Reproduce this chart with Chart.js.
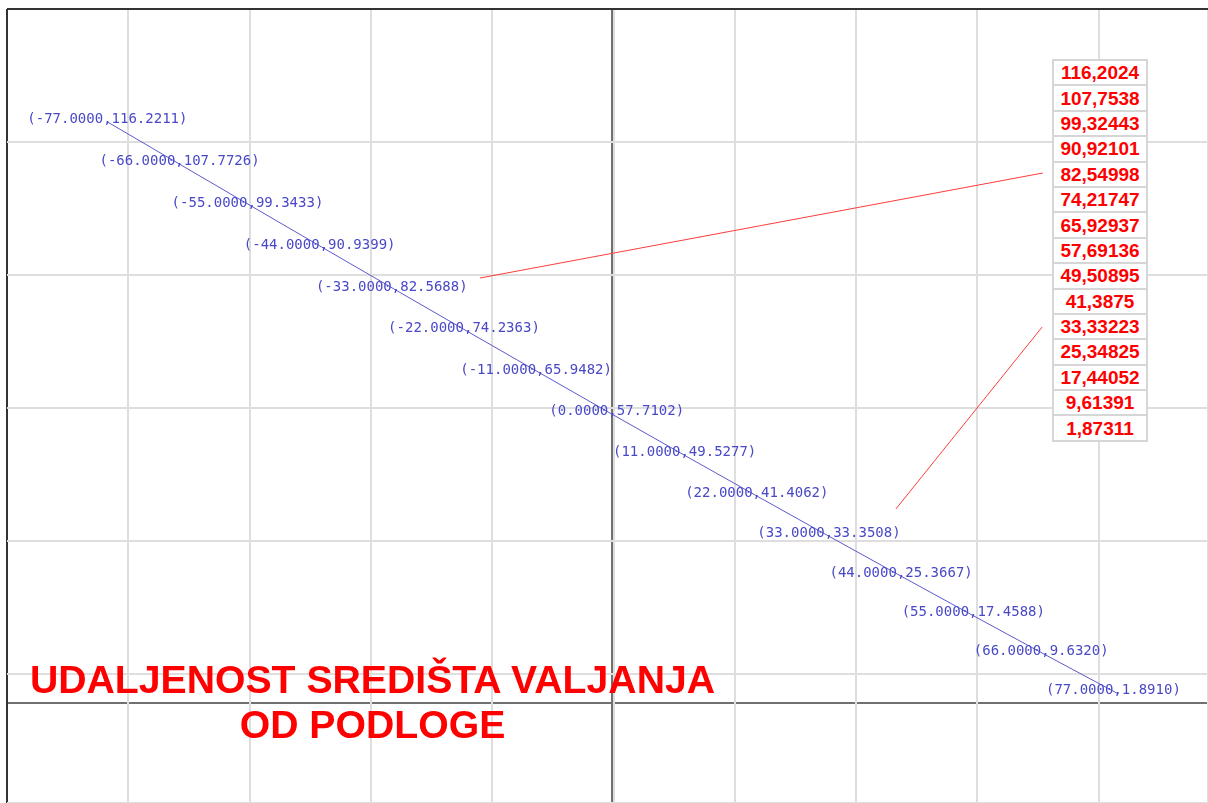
<!DOCTYPE html>
<html>
<head>
<meta charset="utf-8">
<script src="https://cdn.jsdelivr.net/npm/chart.js@4.4.1/dist/chart.umd.min.js"></script>
<style>
  html, body { margin: 0; padding: 0; background: #fff; }
  #wrap { position: relative; width: 1208px; height: 803px; overflow: hidden; }
  #graf { position: absolute; left: 0; top: 0; }
  .naslov {
    position: absolute; left: 0; top: 657px; width: 745px;
    text-align: center; color: #ff0000;
    font: bold 39.2px "Liberation Sans", Arial, sans-serif; line-height: 45px;
  }
  #tablica {
    position: absolute; left: 1052px; top: 59px;
    border-collapse: collapse; background: #fff;
  }
  #tablica td {
    border: 2px solid #d6d6d6; width: 92px; height: 23.4px; padding: 0;
    text-align: center; color: #ff0000;
    font: bold 19px "Liberation Sans", Arial, sans-serif; line-height: 23px;
  }
</style>
</head>
<body>
<div id="wrap">
  <canvas id="graf" width="1208" height="803"></canvas>
  <div class="naslov">UDALJENOST SREDIŠTA VALJANJA<br>OD PODLOGE</div>
  <table id="tablica"></table>
</div>
<script>
// tocke krivulje
const xTocke = [-77, -66, -55, -44, -33, -22, -11, 0, 11, 22, 33, 44, 55, 66, 77];
const yTocke = [116.2211, 107.7726, 99.3433, 90.9399, 82.5688, 74.2363, 65.9482, 57.7102,
                49.5277, 41.4062, 33.3508, 25.3667, 17.4588, 9.6320, 1.8910];

// vrijednosti u tablici desno
const tablicaVrijednosti = ['116,2024', '107,7538', '99,32443', '90,92101', '82,54998',
  '74,21747', '65,92937', '57,69136', '49,50895', '41,3875', '33,33223', '25,34825',
  '17,44052', '9,61391', '1,87311'];

// crvene linije prema tablici
const crvenaA = [{x: -20.2, y: 85.0}, {x: 65.6, y: 106.0}];
const crvenaB = [{x: 43.2, y: 38.8}, {x: 65.5, y: 75.2}];

let tab = document.getElementById('tablica');
tablicaVrijednosti.forEach((v)=>{
  let tr = document.createElement('tr');
  let td = document.createElement('td');
  td.textContent = v;
  tr.appendChild(td);
  tab.appendChild(tr);
});

const oznake = {
  id: 'oznake',
  afterDatasetsDraw(chart) {
    const ctx = chart.ctx;
    const xs = chart.scales.x, ys = chart.scales.y;
    ctx.save();
    ctx.font = '14px "DejaVu Sans Mono", monospace';
    ctx.fillStyle = 'rgb(72,72,200)';
    ctx.textBaseline = 'middle';
    ctx.textAlign = 'left';
    const charW = ctx.measureText('0').width;
    xTocke.forEach((x, i)=>{
      const prefix = '(' + x.toFixed(4);
      const txt = prefix + ',' + yTocke[i].toFixed(4) + ')';
      const px = xs.getPixelForValue(x);
      const py = ys.getPixelForValue(yTocke[i]);
      ctx.fillText(txt, px - ctx.measureText(prefix).width - charW / 2, py - 3);
    });
    ctx.restore();
  }
};

const skrivene = { display: false };

new Chart(document.getElementById('graf').getContext('2d'), {
  type: 'line',
  data: {
    datasets: [
      {
        data: xTocke.map((x, i)=>({x: x, y: yTocke[i]})),
        xAxisID: 'x', yAxisID: 'y',
        borderColor: 'rgb(90,90,205)',
        borderWidth: 1,
        pointRadius: 0,
        tension: 0,
      },
      { data: crvenaA, xAxisID: 'x', yAxisID: 'y', borderColor: 'rgb(255,60,60)', borderWidth: 1, pointRadius: 0 },
      { data: crvenaB, xAxisID: 'x', yAxisID: 'y', borderColor: 'rgb(255,60,60)', borderWidth: 1, pointRadius: 0 },
    ]
  },
  options: {
    responsive: false,
    animation: false,
    layout: { padding: { left: 7, top: 9, right: 0, bottom: 0 } },
    plugins: { legend: { display: false }, tooltip: { enabled: false } },
    scales: {
      // koordinatne osi
      x: {
        type: 'linear', position: 'bottom', min: -92.3, max: 90.78,
        afterBuildTicks: (s)=>{ s.ticks = [{value: 0}]; },
        ticks: { display: false },
        border: skrivene,
        grid: { drawTicks: false, lineWidth: 2, color: '#707070' },
      },
      y: {
        type: 'linear', position: 'left', min: -20, max: 138.8,
        afterBuildTicks: (s)=>{ s.ticks = [{value: 0}]; },
        ticks: { display: false },
        border: skrivene,
        grid: { drawTicks: false, lineWidth: 2, color: '#707070' },
      },
      // mreza
      gx: {
        type: 'linear', axis: 'x', position: 'bottom', min: 0, max: 9.901, z: -1,
        ticks: { display: false, stepSize: 1 },
        border: skrivene,
        grid: {
          drawTicks: false, lineWidth: 2,
          color: (c)=> c.tick && c.tick.value === 0 ? '#333333' : '#dedede',
        },
      },
      gy: {
        type: 'linear', axis: 'y', position: 'left', min: 0, max: 5.97, reverse: true, z: -1,
        ticks: { display: false, stepSize: 1 },
        border: skrivene,
        grid: {
          drawTicks: false, lineWidth: 2,
          color: (c)=> c.tick && c.tick.value === 0 ? '#333333' : '#dedede',
        },
      },
    }
  },
  plugins: [oznake]
});
</script>
</body>
</html>
